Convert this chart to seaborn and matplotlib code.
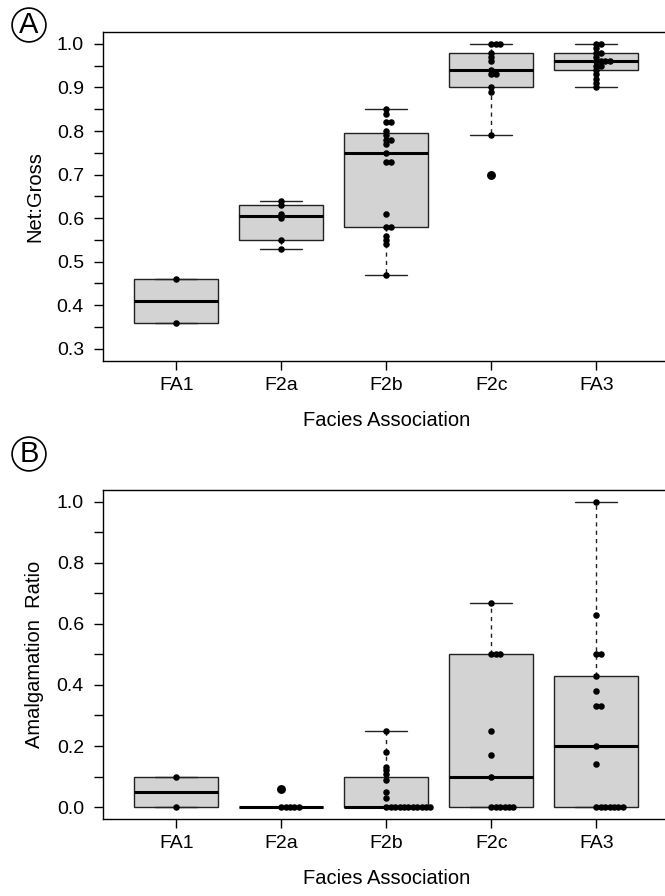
import numpy as np
import pandas as pd
import matplotlib
matplotlib.use("Agg")
import matplotlib.pyplot as plt
import seaborn as sns
from matplotlib.ticker import MultipleLocator

# categories
facies = ["FA1", "F2a", "F2b", "F2c", "FA3"]

# Net:Gross values per facies association
ng_fa1 = [0.46, 0.36]
ng_f2a = [0.64, 0.63, 0.61, 0.60, 0.55, 0.53]
ng_f2b = [0.85, 0.84, 0.82, 0.82, 0.80, 0.79, 0.78, 0.78, 0.77, 0.75,
          0.73, 0.73, 0.61, 0.58, 0.58, 0.56, 0.55, 0.54, 0.47]
ng_f2c = [1.00, 1.00, 1.00, 0.98, 0.97, 0.96, 0.94, 0.93, 0.93, 0.90,
          0.89, 0.79, 0.70]
ng_fa3 = [1.00, 1.00, 0.99, 0.98, 0.98, 0.97, 0.96, 0.96, 0.96, 0.96,
          0.95, 0.95, 0.94, 0.93, 0.92, 0.91, 0.90]

# Amalgamation ratio values per facies association
am_fa1 = [0.10, 0.00]
am_f2a = [0.06, 0.00, 0.00, 0.00, 0.00, 0.00]
am_f2b = [0.25, 0.18, 0.13, 0.12, 0.11, 0.09, 0.05, 0.03, 0.00, 0.00,
          0.00, 0.00, 0.00, 0.00, 0.00, 0.00, 0.00, 0.00, 0.00]
am_f2c = [0.67, 0.50, 0.50, 0.50, 0.25, 0.17, 0.10, 0.00, 0.00, 0.00,
          0.00, 0.00, 0.00]
am_fa3 = [1.00, 0.63, 0.50, 0.50, 0.43, 0.38, 0.33, 0.33, 0.20, 0.14,
          0.00, 0.00, 0.00, 0.00, 0.00, 0.00, 0.00]


def to_long(groups):
    rows = []
    for i, (name, vals) in enumerate(zip(facies, groups)):
        for v in vals:
            rows.append({"facies": name, "idx": i, "value": v})
    d = pd.DataFrame(rows)
    # stack identical values side by side (like stripchart method="stack")
    d["rank"] = d.groupby(["facies", "value"]).cumcount()
    d["xpos"] = d["idx"] + d["rank"] * 0.042
    return d


def fivenum(x):
    x = np.sort(np.asarray(x, dtype=float))
    n = len(x)
    n4 = np.floor((n + 3) / 2) / 2
    d = np.array([1, n4, (n + 1) / 2, n + 1 - n4, n])
    return 0.5 * (x[np.floor(d).astype(int) - 1] + x[np.ceil(d).astype(int) - 1])


def box_stats(vals):
    x = np.asarray(vals, dtype=float)
    s = fivenum(x)
    iqr = s[3] - s[1]
    out = (x < s[1] - 1.5 * iqr - 1e-9) | (x > s[3] + 1.5 * iqr + 1e-9)
    inner = x[~out]
    return {"med": s[2], "q1": s[1], "q3": s[3],
            "whislo": inner.min(), "whishi": inner.max(),
            "fliers": x[out]}


sns.set_theme(style="ticks")
plt.rcParams["font.family"] = ["Liberation Sans", "DejaVu Sans"]
plt.rcParams["axes.linewidth"] = 1.0
for k in ["text.color", "axes.labelcolor", "xtick.color", "ytick.color",
          "axes.edgecolor"]:
    plt.rcParams[k] = "black"

fig = plt.figure(figsize=(6.65, 8.96), dpi=100)


def panel(rect, groups, ylim, major, minor, ylabel, letter, letter_xy):
    ax = fig.add_axes(rect)
    stats = [box_stats(g) for g in groups]
    ax.bxp(stats, positions=range(len(facies)), widths=0.8, capwidths=0.4,
           patch_artist=True,
           boxprops=dict(facecolor="#d3d3d3", edgecolor="#222222", linewidth=1),
           medianprops=dict(color="black", linewidth=2.2, solid_capstyle="butt"),
           whiskerprops=dict(color="#222222", linewidth=1, linestyle=(0, (3, 3))),
           capprops=dict(color="#222222", linewidth=1),
           flierprops=dict(marker="o", markerfacecolor="none",
                           markeredgecolor="black", markersize=5,
                           markeredgewidth=1.4))
    d = to_long(groups)
    sns.scatterplot(data=d, x="xpos", y="value", color="black", s=22,
                    linewidth=0, legend=False, zorder=4, ax=ax)
    ax.set_xlim(-0.7, 4.7)
    ax.set_ylim(*ylim)
    ax.set_xticks(range(len(facies)), facies)
    ax.yaxis.set_major_locator(MultipleLocator(major))
    ax.yaxis.set_minor_locator(MultipleLocator(minor))
    ax.yaxis.set_major_formatter(plt.FormatStrFormatter("%.1f"))
    ax.tick_params(axis="both", which="both", direction="out", length=6.5,
                   width=1, color="black", labelsize=14, pad=5)
    ax.tick_params(axis="y", which="major", pad=7)
    ax.set_xlabel("Facies Association", fontsize=14.5, labelpad=12)
    ax.set_ylabel(ylabel, fontsize=14.5, labelpad=9)
    for sp in ax.spines.values():
        sp.set_color("black")
        sp.set_linewidth(1)
    fig.text(letter_xy[0], letter_xy[1], letter, fontsize=21,
             ha="center", va="center",
             bbox=dict(boxstyle="circle,pad=0.1", facecolor="white",
                       edgecolor="black", linewidth=1.2))
    return ax


panel([0.1544, 0.5971, 0.853, 0.3675],
      [ng_fa1, ng_f2a, ng_f2b, ng_f2c, ng_fa3],
      (0.272, 1.028), 0.1, 0.05, "Net:Gross", "A", (29 / 665, 1 - 25 / 896))
panel([0.1544, 0.0856, 0.853, 0.368],
      [am_fa1, am_f2a, am_f2b, am_f2c, am_fa3],
      (-0.04, 1.04), 0.2, 0.1, "Amalgamation  Ratio", "B", (29 / 665, 1 - 454 / 896))

fig.savefig("out.png", dpi=100)
